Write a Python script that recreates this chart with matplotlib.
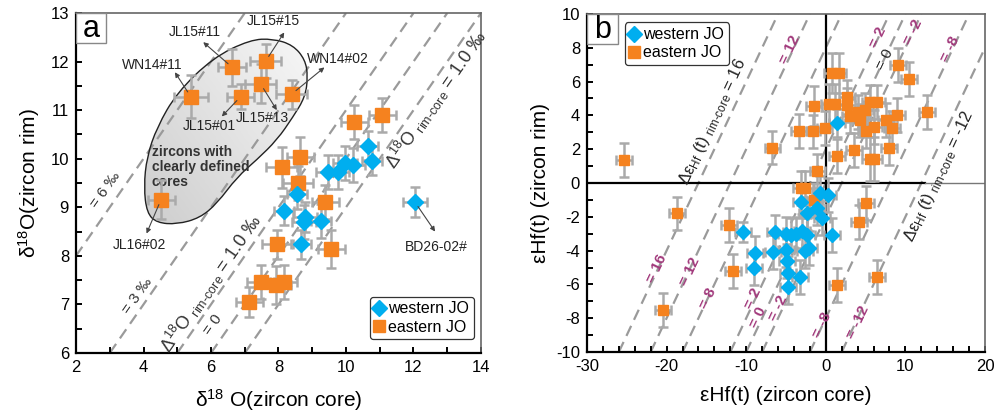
import numpy as np
import matplotlib
matplotlib.use('Agg')
import matplotlib.pyplot as plt
from matplotlib.path import Path
from matplotlib.patches import PathPatch, Rectangle
from matplotlib.lines import Line2D
from matplotlib.colors import LinearSegmentedColormap

plt.rcParams['font.family'] = ['Liberation Sans', 'DejaVu Sans']
plt.rcParams['mathtext.fontset'] = 'custom'
plt.rcParams['mathtext.rm'] = 'Liberation Sans'
plt.rcParams['mathtext.it'] = 'Liberation Sans:italic'
plt.rcParams['axes.unicode_minus'] = False

ORANGE = '#f5821f'
CYAN = '#00aeef'
BAR = '#aaaaaa'
DASH = '#9a9a9a'
PURPLE = '#a23a7c'

# ---- panel a : d18O core vs rim ----
a_east_core = [5.40, 6.63, 6.88, 4.52, 7.62, 7.47, 8.39, 10.24, 11.08, 8.64,
               8.09, 8.57, 9.38, 7.97, 9.57, 7.48, 7.93, 8.16, 7.14]
a_east_rim = [11.28, 11.88, 11.28, 9.16, 12.01, 11.54, 11.33, 10.75, 10.89, 10.04,
              9.82, 9.49, 9.10, 8.24, 8.14, 7.46, 7.40, 7.46, 7.05]
a_east_xerr = [0.5, 0.42, 0.4, 0.4, 0.45, 0.45, 0.45, 0.4, 0.4, 0.4,
               0.45, 0.45, 0.4, 0.45, 0.4, 0.4, 0.45, 0.4, 0.4]
a_east_yerr = [0.45, 0.38, 0.26, 0.4, 0.35, 0.4, 0.3, 0.35, 0.35, 0.4,
               0.42, 0.35, 0.35, 0.3, 0.4, 0.35, 0.4, 0.35, 0.3]

a_west_core = [10.64, 10.76, 9.97, 10.22, 9.46, 9.75, 8.54, 8.17, 8.79, 8.76, 9.26, 8.66, 12.04]
a_west_rim = [10.27, 9.96, 9.92, 9.87, 9.72, 9.72, 9.27, 8.93, 8.80, 8.70, 8.72, 8.24, 9.11]
a_west_xerr = [0.3, 0.3, 0.35, 0.35, 0.35, 0.35, 0.3, 0.3, 0.35, 0.35, 0.3, 0.3, 0.35]
a_west_yerr = [0.3, 0.3, 0.35, 0.35, 0.35, 0.35, 0.3, 0.3, 0.3, 0.35, 0.35, 0.3, 0.3]

a_offsets = [6, 3, 1, 0, -1]

a_names = ['JL15#11', 'WN14#11', 'JL15#01', 'JL15#15', 'JL15#13', 'WN14#02', 'JL16#02', 'BD26-02#']
a_name_src = [(6.63, 11.88), (5.40, 11.28), (6.88, 11.28), (7.62, 12.01), (7.47, 11.54),
              (8.39, 11.33), (4.52, 9.16), (12.04, 9.11)]
a_name_head = [(5.77, 12.4), (4.93, 11.78), (6.32, 10.87), (8.17, 12.6), (7.95, 11.0),
               (9.36, 11.88), (4.09, 8.46), (12.64, 8.5)]
a_name_txt = [(5.53, 12.6), (4.25, 11.93), (5.94, 10.67), (7.85, 12.83), (7.52, 10.83),
              (9.77, 12.05), (3.88, 8.22), (12.67, 8.19)]

blob_x = [7.16, 7.84, 8.43, 8.79, 8.87, 8.79, 8.43, 7.96, 7.36, 6.77, 6.18, 5.67,
          4.99, 4.40, 4.10, 4.01, 4.10, 4.40, 4.99, 6.06]
blob_y = [12.45, 12.47, 12.34, 12.04, 11.69, 11.27, 10.86, 10.39, 9.98, 9.62, 9.08, 8.78,
          8.65, 8.68, 8.88, 9.42, 10.04, 10.65, 11.36, 12.08]

# ---- panel b : eHf(t) core vs rim ----
b_east_core = [-25.4, -18.7, -20.4, -12.2, -11.7, -6.7, -3.4, -1.6, -0.15, -1.5,
               0.4, 1.2, 0.8, 1.6, 2.7, 2.7, 3.0, 4.0, 4.3, 4.9,
               5.5, 6.4, 7.6, 9.0, 8.3, 6.0, 5.1, 12.7, 9.1, 10.5,
               1.4, 3.5, 7.9, 5.5, 6.1, -1.05, -3.1, -2.6, -1.5, 4.2,
               5.0, 1.4, 6.4]
b_east_rim = [1.35, -1.8, -7.5, -2.5, -5.2, 2.1, 3.1, 3.05, 3.25, 4.55,
              4.65, 4.65, 6.5, 6.5, 5.1, 4.6, 3.95, 4.2, 3.7, 4.3,
              4.8, 4.8, 3.75, 4.0, 3.25, 3.3, 3.05, 4.2, 7.0, 6.15,
              1.6, 1.97, 2.08, 1.4, 1.42, 0.7, -0.3, -0.3, -1.0, -2.3,
              -1.2, -6.05, -5.55]
b_east_xerr = [1.0, 1.0, 1.0, 1.0, 1.0, 1.0, 1.0, 0.9, 0.9, 1.0,
               1.0, 1.0, 1.0, 1.0, 1.0, 1.0, 1.0, 1.0, 1.0, 1.0,
               1.0, 1.0, 1.0, 1.0, 1.0, 1.0, 1.0, 1.0, 1.0, 1.0,
               1.0, 1.0, 1.0, 1.0, 1.0, 0.9, 1.0, 1.0, 1.0, 1.0,
               1.0, 1.0, 1.0]
b_east_yerr = [1.0, 1.0, 1.0, 1.0, 1.0, 1.0, 1.0, 1.0, 1.0, 1.2,
               1.2, 1.2, 1.2, 1.2, 1.0, 1.0, 1.0, 1.0, 1.0, 1.0,
               1.0, 1.0, 1.0, 1.0, 1.0, 1.0, 1.0, 1.0, 1.0, 1.0,
               1.0, 1.0, 1.0, 1.3, 1.3, 1.0, 1.0, 1.0, 1.0, 1.0,
               1.0, 1.0, 1.0]

b_west_core = [1.4, -3.1, -0.75, 0.3, -2.35, -1.05, -0.5, 0.8, -10.4, -6.4,
               -5.0, -4.4, -3.7, -2.95, -2.4, -2.6, -2.05, -5.05, -6.6, -8.9,
               -9.0, -4.9, -4.8, -3.25, -4.7]
b_west_rim = [3.55, -1.1, -0.6, -0.7, -1.8, -1.5, -2.05, -3.1, -2.9, -2.9,
              -3.0, -3.1, -3.0, -2.85, -3.1, -4.0, -3.85, -3.95, -4.1, -4.15,
              -5.05, -4.6, -5.3, -5.55, -6.15]
b_west_xerr = [1.0, 1.0, 1.0, 1.0, 1.0, 1.0, 1.0, 1.0, 1.0, 1.0,
               1.0, 1.0, 1.0, 1.0, 1.0, 1.0, 1.0, 1.0, 1.0, 1.0,
               1.0, 1.0, 1.0, 1.0, 1.0]
b_west_yerr = [0.8, 1.0, 1.0, 1.0, 1.0, 1.0, 1.0, 1.0, 0.6, 1.0,
               1.0, 1.0, 1.0, 1.0, 1.0, 1.0, 1.0, 1.0, 1.0, 1.0,
               1.0, 1.0, 1.0, 1.0, 1.0]

b_offsets = [16, 12, 8, 2, 0, -2, -8, -12]


def style_axes(ax):
    for s in ['left', 'bottom']:
        ax.spines[s].set_linewidth(1.6)
        ax.spines[s].set_color('black')
    for s in ['top', 'right']:
        ax.spines[s].set_linewidth(1.2)
        ax.spines[s].set_color('#666666')
    ax.tick_params(which='both', direction='in', length=4, width=1.4,
                   top=False, right=False, labelsize=12, pad=5)


def panel_box(ax, letter, w, h):
    ax.add_patch(Rectangle((0, 1 - h), w, h, transform=ax.transAxes,
                           fc='white', ec='#888888', lw=1.0, zorder=6))
    ax.text(w / 2, 1 - h / 2 - 0.003, letter, transform=ax.transAxes, ha='center',
            va='center', fontsize=22, zorder=7)


def add_legend(ax, **kw):
    handles = [Line2D([], [], marker='D', color=CYAN, ls='none', markersize=8.5),
               Line2D([], [], marker='s', color=ORANGE, ls='none', markersize=8.5)]
    leg = ax.legend(handles, ['western JO', 'eastern JO'], fontsize=11.5, frameon=True,
                    fancybox=True, handlelength=0.6, handletextpad=0.25,
                    borderpad=0.3, labelspacing=0.2, borderaxespad=0, **kw)
    leg.get_frame().set_edgecolor('black')
    leg.get_frame().set_linewidth(0.9)
    leg.set_zorder(8)


fig = plt.figure(figsize=(9.95, 4.16), dpi=100)
ax1 = fig.add_axes([76 / 995, 63 / 416, 405 / 995, 340 / 416])
ax2 = fig.add_axes([587 / 995, 64 / 416, 398 / 995, 338 / 416])

# ================= panel a =================
ax1.set_xlim(2, 14)
ax1.set_ylim(6, 13)

# shaded blob
P = np.column_stack([blob_x, blob_y])
mids = (P + np.roll(P, -1, axis=0)) / 2
verts = [mids[-1]]
codes = [Path.MOVETO]
for i in range(len(P)):
    verts += [P[i], mids[i]]
    codes += [Path.CURVE3, Path.CURVE3]
blob = PathPatch(Path(verts, codes), fc='none', ec='#222222', lw=1.0, zorder=2)
ax1.add_patch(blob)
gx, gy = np.meshgrid(np.linspace(3.9, 9.0, 200), np.linspace(8.5, 12.6, 200))
gz = (gx - 3.9) / 5.1 * 0.55 + (gy - 8.5) / 4.1 * 0.45
cmap = LinearSegmentedColormap.from_list('g', ['#cccccc', '#e2e2e2', '#f8f8f8'])
im = ax1.imshow(gz, extent=[3.9, 9.0, 8.5, 12.6], origin='lower', cmap=cmap,
                aspect='auto', zorder=1)
im.set_clip_path(blob)

for c in a_offsets:
    ax1.axline((0, c), slope=1, color=DASH, lw=1.6, dashes=(5, 3), zorder=1.5)

lbl = dict(rotation=55.2, rotation_mode='anchor', ha='center', va='center',
           color='#333333', zorder=3)
ax1.text(2.86, 9.35, '= 6 ‰', fontsize=11, **lbl)
ax1.text(3.81, 7.17, '= 3 ‰', fontsize=11, **lbl)
ax1.text(6.0, 7.43, r'Δ$\mathregular{^{18}}$O $_{\text{rim-core}}$ = 1.0 ‰', fontsize=13, **lbl)
ax1.text(6.07, 6.57, '= 0', fontsize=11, **lbl)
ax1.text(12.65, 11.22, r'Δ$\mathregular{^{18}}$O $_{\text{rim-core}}$ = 1.0 ‰', fontsize=13, **lbl)

ax1.text(4.25, 10.28, 'zircons with\nclearly defined\ncores', fontsize=10,
         fontweight='bold', color='#333333', ha='left', va='top', linespacing=1.1, zorder=3)

ax1.errorbar(a_east_core, a_east_rim, xerr=a_east_xerr, yerr=a_east_yerr, fmt='none',
             ecolor=BAR, elinewidth=1.8, capsize=3.5, capthick=1.8, zorder=3)
ax1.errorbar(a_west_core, a_west_rim, xerr=a_west_xerr, yerr=a_west_yerr, fmt='none',
             ecolor=BAR, elinewidth=1.8, capsize=3.5, capthick=1.8, zorder=3)
ax1.plot(a_east_core, a_east_rim, 's', color=ORANGE, markersize=9.5, zorder=4)
ax1.plot(a_west_core, a_west_rim, 'D', color=CYAN, markersize=8, zorder=4)

for name, src, head, txt in zip(a_names, a_name_src, a_name_head, a_name_txt):
    ax1.annotate('', xy=head, xytext=src,
                 arrowprops=dict(arrowstyle='-|>', color='#444444', lw=0.8,
                                 mutation_scale=7, shrinkA=4, shrinkB=0), zorder=5)
    ax1.text(txt[0], txt[1], name, fontsize=10, color='#222222', ha='center',
             va='center', zorder=5)

ax1.set_xticks(np.arange(2, 15, 2))
ax1.set_xticks(np.arange(2, 15, 1), minor=True)
ax1.set_yticks(np.arange(6, 14, 1))
ax1.set_yticks(np.arange(6, 13.1, 0.5), minor=True)
style_axes(ax1)
ax1.set_xlabel(r'δ$\mathregular{^{18}}$ O(zircon core)', fontsize=15, labelpad=9)
ax1.set_ylabel(r'δ$\mathregular{^{18}}$O(zircon rim)', fontsize=15, labelpad=6)
panel_box(ax1, 'a', 30 / 405, 30 / 340)
add_legend(ax1, loc='lower right', bbox_to_anchor=(0.982, 0.04))

# ================= panel b =================
ax2.set_xlim(-30, 20)
ax2.set_ylim(-10, 10)
for c in b_offsets:
    ax2.axline((0, c), slope=1, color=DASH, lw=1.6, dashes=(5, 3), zorder=1)
ax2.axvline(0, color='black', lw=1.6, zorder=1.5)
ax2.plot([-30, 12.5], [0, 0], color='black', lw=1.6, zorder=1.5)
ax2.plot([12.5, 20], [0, 0], color='#777777', lw=1.0, zorder=1.5)

ax2.errorbar(b_east_core, b_east_rim, xerr=b_east_xerr, yerr=b_east_yerr, fmt='none',
             ecolor=BAR, elinewidth=1.8, capsize=3.5, capthick=1.8, zorder=3)
ax2.errorbar(b_west_core, b_west_rim, xerr=b_west_xerr, yerr=b_west_yerr, fmt='none',
             ecolor=BAR, elinewidth=1.8, capsize=3.5, capthick=1.8, zorder=3)
ax2.plot(b_east_core, b_east_rim, 's', color=ORANGE, markersize=7.5, zorder=4)
ax2.plot(b_west_core, b_west_rim, 'D', color=CYAN, markersize=7, zorder=4)

lb = dict(rotation=64.8, rotation_mode='anchor', ha='center', va='center', zorder=5)
ax2.text(-14.2, 3.63, r'Δ$\mathregular{ε_{Hf}}$ (t) $_{\text{rim-core}}$ = 16', fontsize=12,
         color='#222222', **lb)
ax2.text(14.2, 0.4, r'Δ$\mathregular{ε_{Hf}}$ (t) $_{\text{rim-core}}$ = -12', fontsize=12,
         color='#222222', **lb)
top_lbl = [(-4.5, 7.87, '= 12'), (6.6, 8.6, '= 2'), (11.0, 8.9, '= -2'), (15.6, 7.9, '= -8')]
for x, y, s in top_lbl:
    ax2.text(x, y, s, fontsize=11, color=PURPLE, fontweight='bold', **lb)
ax2.text(7.4, 7.3, '= 0', fontsize=11, color='#222222', **lb)
bot_lbl = [(-21.25, -5.06, '= 16'), (-17.06, -5.26, '= 12'), (-14.76, -6.84, '= 8'),
           (-9.1, -6.84, '= 2'), (-8.48, -7.93, '= 0'), (-5.97, -7.43, '= -2'),
           (-0.52, -8.42, '= -8'), (4.08, -8.22, '= -12')]
for x, y, s in bot_lbl:
    ax2.text(x, y, s, fontsize=11, color=PURPLE, fontweight='bold', **lb)

ax2.set_xticks(np.arange(-30, 21, 10))
ax2.set_xticks(np.arange(-30, 21, 2), minor=True)
ax2.set_yticks(np.arange(-10, 11, 2))
ax2.set_yticks(np.arange(-10, 11, 1), minor=True)
style_axes(ax2)
ax2.set_xlabel('εHf(t) (zircon core)', fontsize=15, labelpad=9)
ax2.set_ylabel('εHf(t) (zircon rim)', fontsize=15, labelpad=4)
panel_box(ax2, 'b', 31 / 398, 30 / 338)
add_legend(ax2, loc='upper left', bbox_to_anchor=(0.095, 0.975))

fig.savefig('out.png', dpi=100)
